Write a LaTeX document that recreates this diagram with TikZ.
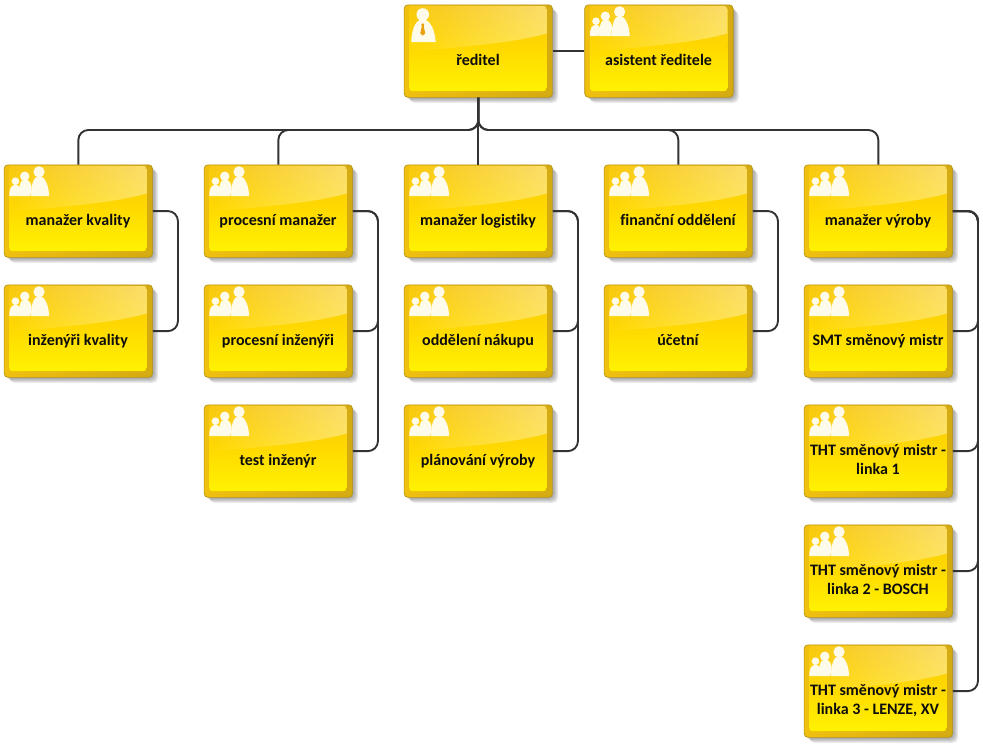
\documentclass[tikz,border=0pt]{standalone}
\usepackage{fontspec}
\setmainfont[Ligatures=NoCommon]{Carlito}
\usetikzlibrary{calc,fadings}
\definecolor{rimLeft}{HTML}{F0C010}
\definecolor{rimRight}{HTML}{D4AA12}
\definecolor{rimLine}{HTML}{B5920F}
\definecolor{faceTop}{HTML}{F8C810}
\definecolor{faceMid}{HTML}{FFD800}
\definecolor{faceBot}{HTML}{FFF200}
\definecolor{iconW}{HTML}{FFFBEA}
\definecolor{connC}{HTML}{333333}
\definecolor{tieC}{HTML}{E8A010}
\tikzfading[name=glossfade,left color=transparent!100,right color=transparent!62]
\tikzset{
  orgbox/.style={rounded corners=4pt,draw=rimLine,line width=0.7pt,left color=rimLeft,right color=rimRight,
    minimum width=148.5pt,minimum height=92.5pt,anchor=north west,inner sep=0pt},
  orglabel/.style={font=\fontsize{16}{19}\selectfont\bfseries,align=center,text=black!95,inner sep=0pt},
  shadowbox/.style={rounded corners=5pt,fill=black,opacity=0.07},
  conn/.style={draw=connC,line width=1.9pt,rounded corners=10pt}
}
\newcommand{\iconGroup}{%
  \fill[iconW] (11.7,16.7) circle (3.8);
  \fill[iconW] (5.5,31.5) .. controls (5.5,25) and (7,20.3) .. (11.7,20.3) .. controls (15,20.3) and (16,23) .. (16,25) -- (13.8,31.5) -- cycle;
  \fill[iconW] (21,11.7) circle (4.7);
  \fill[iconW] (14.3,31.5) .. controls (15,24) and (16,15) .. (21,15) .. controls (25.5,15) and (27.5,19) .. (28,23) -- (26.3,31.5) -- cycle;
  \fill[iconW] (35.3,7.3) circle (5.6);
  \fill[iconW] (26.8,31.5) .. controls (28,22) and (29,11.5) .. (35.3,11.5) .. controls (41.5,11.5) and (45,22) .. (45.5,31.5) -- cycle;
}
\newcommand{\iconChief}{%
  \fill[iconW] (19,10) circle (6.3);
  \fill[iconW] (7.5,37.5) .. controls (8,26) and (11,15) .. (19,15) .. controls (27,15) and (31,26) .. (32,37.5) -- cycle;
  \fill[tieC] (17.5,19) -- (20.5,19) -- (20,22) -- (21.5,29) -- (19,31) -- (16.5,29) -- (18,22) -- cycle;
}
% name, x, y, icon macro, text
\newcommand{\orgnode}[5]{%
  \foreach \s in {6,5,4,3,2}{
    \fill[shadowbox] (#2+\s,#3+\s) rectangle ++(148.5,92.5);
  }
  \node[orgbox] (#1) at (#2,#3) {};
  \begin{scope}[shift={(#2,#3)}]
    \begin{scope}
      \clip[rounded corners=3pt] (5.5,1.5) rectangle (143,86.5);
      \shade[top color=faceTop,bottom color=faceMid] (5.5,1.5) rectangle (143,42);
      \shade[top color=faceMid,bottom color=faceBot] (5.5,42) rectangle (143,86.5);
      \fill[white,path fading=glossfade] (5.5,1.5) -- (143,1.5) -- (143,29) .. controls (115,37) and (70,42) .. (5.5,47) -- cycle;
    \end{scope}
    #4
    \node[orglabel] (#1-t) at (74.25,57) {\strut #5\strut};
  \end{scope}
}
\begin{document}
\begin{tikzpicture}[x=1pt,y=-1pt]
\useasboundingbox (0,0) rectangle (983,747);
\fill[white] (0,0) rectangle (983,747);

\orgnode{red}{403.75}{4.5}{\iconChief}{ředitel}
\orgnode{asis}{584.3}{4.5}{\iconGroup}{asistent ředitele}

\orgnode{kval}{3.75}{164.5}{\iconGroup}{manažer kvality}
\orgnode{ikval}{3.75}{284.5}{\iconGroup}{inženýři kvality}

\orgnode{proc}{203.75}{164.5}{\iconGroup}{procesní manažer}
\orgnode{iproc}{203.75}{284.5}{\iconGroup}{procesní inženýři}
\orgnode{test}{203.75}{404.5}{\iconGroup}{test inženýr}

\orgnode{log}{403.75}{164.5}{\iconGroup}{manažer logistiky}
\orgnode{nak}{403.75}{284.5}{\iconGroup}{oddělení nákupu}
\orgnode{plan}{403.75}{404.5}{\iconGroup}{plánování výroby}

\orgnode{fin}{603.75}{164.5}{\iconGroup}{finanční oddělení}
\orgnode{uc}{603.75}{284.5}{\iconGroup}{účetní}

\orgnode{vyr}{803.75}{164.5}{\iconGroup}{manažer výroby}
\orgnode{smt}{803.75}{284.5}{\iconGroup}{SMT směnový mistr}
\orgnode{tha}{803.75}{404.5}{\iconGroup}{THT směnový mistr -\\linka 1}
\orgnode{thb}{803.75}{524.5}{\iconGroup}{THT směnový mistr -\\linka 2 - BOSCH}
\orgnode{thc}{803.75}{644.5}{\iconGroup}{THT směnový mistr -\\linka 3 - LENZE, XV}

\coordinate (busy) at (0,130);
\draw[conn] (red.east) -- (asis.west);
\draw[conn] (red.south) -- (log.north);
\foreach \c in {kval,proc,fin,vyr}{
  \draw[conn] (\c.north) -- (\c.north |- busy) -- (red.south |- busy) -- (red.south);
}
\coordinate (busA) at ($(kval.east)+(25,0)$);
\coordinate (busB) at ($(proc.east)+(25,0)$);
\coordinate (busC) at ($(log.east)+(25,0)$);
\coordinate (busD) at ($(fin.east)+(25,0)$);
\coordinate (busE) at ($(vyr.east)+(25,0)$);
\draw[conn] (kval.east) -- (busA) -- (busA |- ikval.east) -- (ikval.east);
\foreach \c in {iproc,test}{
  \draw[conn] (proc.east) -- (busB) -- (busB |- \c.east) -- (\c.east);
}
\foreach \c in {nak,plan}{
  \draw[conn] (log.east) -- (busC) -- (busC |- \c.east) -- (\c.east);
}
\draw[conn] (fin.east) -- (busD) -- (busD |- uc.east) -- (uc.east);
\foreach \c in {smt,tha,thb,thc}{
  \draw[conn] (vyr.east) -- (busE) -- (busE |- \c.east) -- (\c.east);
}
\end{tikzpicture}
\end{document}
